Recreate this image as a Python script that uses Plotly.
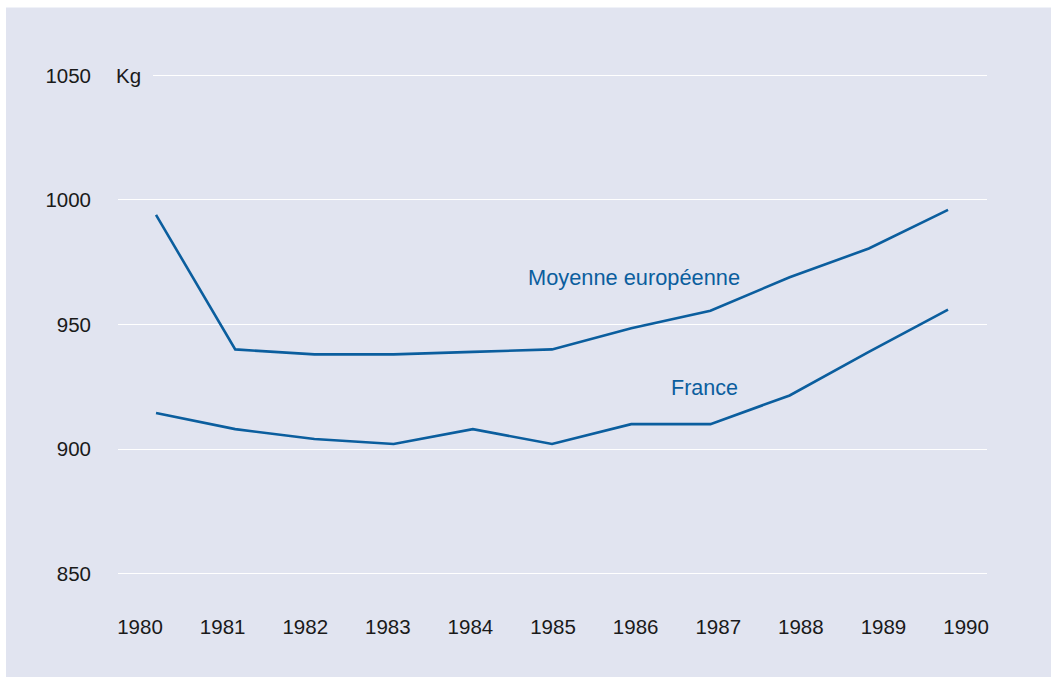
import plotly.graph_objects as go

years = [1980, 1981, 1982, 1983, 1984, 1985, 1986, 1987, 1988, 1989, 1990]
moyenne_europeenne = [994, 940, 938, 938, 939, 940, 948.5, 955.5, 969, 980.5, 996]
france = [914.5, 908, 904, 902, 908, 902, 910, 910, 921.5, 939, 956]
y_ticks = [850, 900, 950, 1000, 1050]
year_labels = [str(y) for y in years]

LINE = "#0b5e9e"
BG = "#e1e4f0"
FONT = "Liberation Sans, Arial, sans-serif"

# tick labels in the reference are spread slightly wider than the data points
tick_pos = [1980 + (-16 + i * 82.6) / 79.2 for i in range(len(years))]

fig = go.Figure()
fig.add_trace(go.Scatter(x=years, y=moyenne_europeenne, mode="lines",
                         line=dict(color=LINE, width=2.6), name="Moyenne européenne",
                         showlegend=False))
fig.add_trace(go.Scatter(x=years, y=france, mode="lines",
                         line=dict(color=LINE, width=2.6), name="France",
                         showlegend=False))

fig.update_layout(
    width=1051, height=677,
    margin=dict(l=118, r=64, t=63, b=91),
    paper_bgcolor=BG,
    plot_bgcolor="rgba(0,0,0,0)",
    font=dict(family=FONT, size=20.5, color="#1a1a1a"),
    xaxis=dict(range=[1979.52, 1990.492], tickvals=tick_pos, ticktext=year_labels,
               showgrid=False, zeroline=False, showline=False, ticks="",
               ticklabelstandoff=26, fixedrange=True),
    yaxis=dict(range=[845, 1055], tickvals=y_ticks, showgrid=True,
               gridcolor="white", gridwidth=1.3, zeroline=False, showline=False,
               ticks="", ticklabelstandoff=26, fixedrange=True),
    shapes=[
        # white frame strips on the top and left of the panel
        dict(type="rect", xref="paper", yref="paper", x0=-1, x1=2,
             y0=1.1062, y1=2, fillcolor="white", line=dict(width=0), layer="below"),
        dict(type="rect", xref="paper", yref="paper", x0=-1, x1=-0.1289,
             y0=-1, y1=2, fillcolor="white", line=dict(width=0), layer="below"),
    ],
    annotations=[
        dict(text="Kg", xref="paper", yref="y", x=-0.0161, y=1050, xanchor="left",
             yanchor="middle", showarrow=False, bgcolor=BG, borderpad=12,
             borderwidth=0, font=dict(size=20.5, color="#1a1a1a")),
        dict(text="Moyenne européenne", x=1986.04, y=969, xref="x", yref="y",
             showarrow=False, font=dict(size=21.8, color=LINE)),
        dict(text="France", x=1986.93, y=924.5, xref="x", yref="y",
             showarrow=False, font=dict(size=21.5, color=LINE)),
    ],
)

fig.write_html(
    "out.html",
    config={"displayModeBar": False},
    post_script="document.body.style.margin='0';document.body.style.overflow='hidden';",
)
